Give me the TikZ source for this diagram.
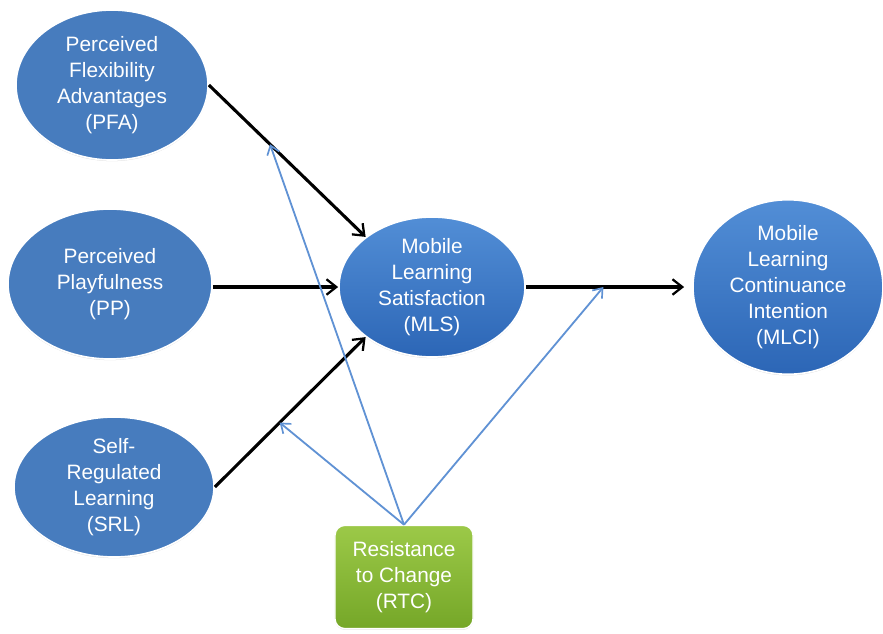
\documentclass[tikz,border=0pt]{standalone}
\usepackage{fontspec}
\setmainfont{Liberation Sans}
\usepackage{tikz}
\usetikzlibrary{arrows.meta,shapes.geometric,shadows}
\definecolor{tikzblue}{RGB}{71,124,190}
\definecolor{tikzbluetop}{RGB}{82,142,214}
\definecolor{tikzbluebot}{RGB}{44,102,182}
\definecolor{tikzgreentop}{RGB}{156,201,72}
\definecolor{tikzgreenbot}{RGB}{117,167,40}
\definecolor{tikzlink}{RGB}{96,146,212}

\begin{document}
\begin{tikzpicture}[
        x=0.025cm, y=-0.025cm,
        construct/.style={ellipse, fill=tikzblue, draw=white, line width=1.2pt, inner sep=0pt, text=white, align=center, font=\fontsize{14.8}{18.5}\selectfont, drop shadow={shadow xshift=0pt, shadow yshift=-0.8pt, opacity=0.3, fill=gray}},
        outcome/.style={construct, top color=tikzbluetop, bottom color=tikzbluebot},
        moderator/.style={rectangle, rounded corners=7pt, top color=tikzgreentop, bottom color=tikzgreenbot, draw=white, line width=1pt, text=white, align=center, font=\fontsize{14.8}{18.5}\selectfont, drop shadow={shadow xshift=0pt, shadow yshift=-0.8pt, opacity=0.3, fill=gray}},
        path/.style={line width=2.2pt, draw=black, -{Straight Barb[length=7pt, width=11pt, line width=1.6pt]}},
        effect/.style={line width=1.3pt, draw=tikzlink, -{Straight Barb[length=6pt, width=9pt, line width=1.2pt]}}
    ]
        \useasboundingbox (0,0) rectangle (883,633);

        % Constructs
        \node[construct, minimum width=4.8cm, minimum height=3.75cm] (pfa) at (112,85) {Perceived\\Flexibility\\Advantages\\(PFA)};
        \node[construct, minimum width=5.1cm, minimum height=3.75cm] (pp) at (110,284) {Perceived\\Playfulness\\(PP)};
        \node[construct, minimum width=5.0cm, minimum height=3.5cm] (srl) at (114,487) {Self-\\Regulated\\Learning\\(SRL)};
        \node[outcome, minimum width=4.65cm, minimum height=3.5cm] (mls) at (432,287) {Mobile\\Learning\\Satisfaction\\(MLS)};
        \node[outcome, minimum width=4.75cm, minimum height=3.93cm] (mlci) at (788,287) {Mobile\\Learning\\Continuance\\Intention\\(MLCI)};

        % Moderator
        \node[moderator, minimum width=3.45cm, minimum height=2.58cm] (rtc) at (404,577) {Resistance\\to Change\\(RTC)};

        % Paths
        \draw[path] (pfa.east) -- (mls.north west) coordinate[pos=0.39] (m1);
        \draw[path] (pp.east |- mls.west) -- (mls.west);
        \draw[path] (srl.east) -- (mls.south west) coordinate[pos=0.43] (m2);
        \draw[path] (mls.east) -- ([xshift=-0.2cm]mlci.west) coordinate[pos=0.49] (m3);

        % Moderating effects
        \draw[effect] (rtc.north) -- (m1);
        \draw[effect] (rtc.north) -- (m2);
        \draw[effect] (rtc.north) -- (m3);
    \end{tikzpicture}
\end{document}
